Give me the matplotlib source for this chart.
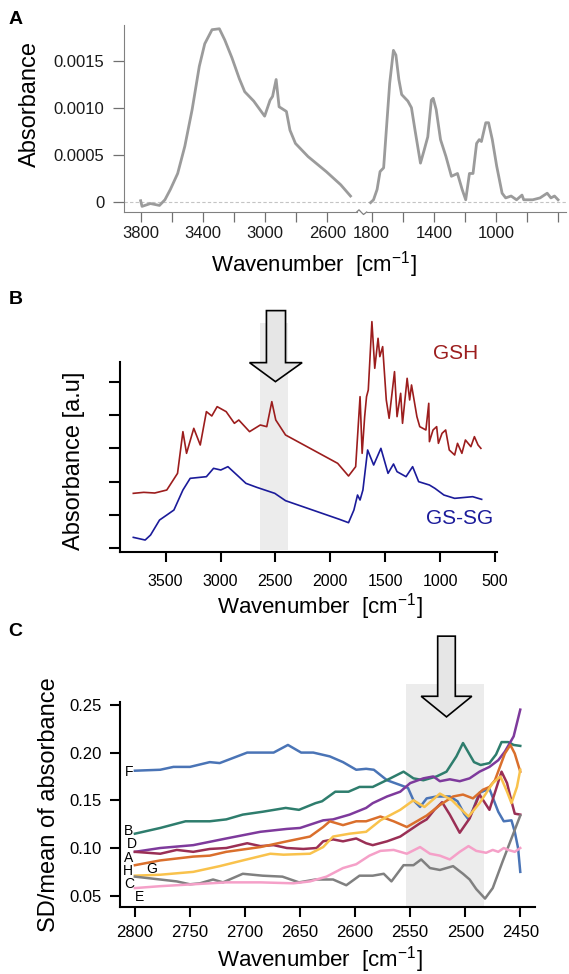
import matplotlib.pyplot as plt
from matplotlib.patches import Polygon, Rectangle
from matplotlib.lines import Line2D
from matplotlib.ticker import FormatStrFormatter

plt.rcParams['font.family'] = ['Liberation Sans', 'DejaVu Sans']
plt.rcParams['mathtext.fontset'] = 'custom'
plt.rcParams['mathtext.rm'] = 'Liberation Sans'
plt.rcParams['mathtext.it'] = 'Liberation Sans:italic'

# ---- panel A : FTIR spectrum (broken axis) ----
a_wn_high = [3800, 3791, 3737, 3679, 3644, 3609, 3562, 3516, 3469, 3423, 3388, 3341, 3294,
             3259, 3213, 3166, 3131, 3073, 3003, 2968, 2952, 2929, 2910, 2863, 2840, 2805,
             2724, 2607, 2514, 2451]
a_abs_high = [0.00001, -0.00005, -0.00002, -0.00004, 0.00002, 0.00013, 0.00030, 0.00059,
              0.00098, 0.00144, 0.00168, 0.00183, 0.00184, 0.00172, 0.00153, 0.00131,
              0.00117, 0.00107, 0.00091, 0.00108, 0.00112, 0.00130, 0.00101, 0.00096,
              0.00076, 0.00062, 0.00048, 0.00032, 0.00018, 0.00006]
a_wn_low = [1807, 1788, 1765, 1746, 1723, 1707, 1684, 1660, 1644, 1625, 1607, 1567, 1544,
            1521, 1486, 1462, 1439, 1416, 1404, 1385, 1357, 1322, 1287, 1248, 1218, 1195,
            1171, 1148, 1125, 1108, 1094, 1066, 1048, 1024, 996, 961, 938, 903, 868, 833,
            822, 764, 717, 671, 647, 624, 601]
a_abs_low = [-0.00001, 0.00002, 0.00013, 0.00032, 0.00036, 0.00073, 0.00126, 0.00161,
             0.00156, 0.00130, 0.00114, 0.00107, 0.00100, 0.00076, 0.00041, 0.00055,
             0.00069, 0.00108, 0.00110, 0.00098, 0.00066, 0.00048, 0.00027, 0.00030,
             0.00013, 0.00002, 0.00030, 0.00030, 0.00062, 0.00066, 0.00064, 0.00084,
             0.00084, 0.00066, 0.00038, 0.00009, 0.00004, 0.00006, 0.00002, 0.00007,
             0.00002, 0.00002, 0.00004, 0.00009, 0.00004, 0.00006, 0.00002]
a_yticks = [0, 0.0005, 0.0010, 0.0015]
a_yticklabels = ['0', '0.0005', '0.0010', '0.0015']
a_xticks_high = [3800, 3600, 3400, 3200, 3000, 2800, 2600]
a_xticks_low = [1800, 1600, 1400, 1200, 1000, 800, 600]
a_xlabels_high = ['3800', '', '3400', '', '3000', '', '2600']
a_xlabels_low = ['1800', '', '1400', '', '1000', '', '']

# ---- panel B : GSH vs GS-SG ----
gsh_wn = [3795, 3700, 3600, 3490, 3392, 3343, 3310, 3244, 3185, 3129, 3080, 3031, 2949,
          2874, 2834, 2736, 2638, 2579, 2533, 2497, 2408, 1933, 1834, 1769, 1729, 1710,
          1687, 1670, 1654, 1621, 1595, 1565, 1549, 1523, 1490, 1464, 1415, 1392, 1359,
          1342, 1300, 1277, 1260, 1211, 1185, 1129, 1103, 1097, 1064, 1031, 1015, 982,
          949, 916, 867, 841, 801, 769, 719, 687, 654, 628]
gsh_abs = [1.65, 1.68, 1.66, 1.75, 2.25, 3.50, 2.85, 3.60, 3.10, 4.10, 3.97, 4.25, 4.10,
           3.75, 3.85, 3.50, 3.70, 3.65, 4.40, 3.85, 3.40, 2.55, 2.17, 2.45, 4.55, 2.85,
           3.95, 4.55, 4.75, 6.80, 5.40, 6.30, 5.75, 6.05, 4.45, 3.90, 5.30, 3.95, 4.65,
           3.75, 5.10, 4.45, 4.90, 3.95, 3.65, 3.55, 4.35, 3.20, 3.55, 3.65, 3.15, 3.45,
           3.55, 2.95, 2.80, 3.15, 2.85, 3.25, 3.05, 3.35, 3.10, 3.00]
gssg_wn = [3795, 3687, 3638, 3556, 3490, 3425, 3343, 3277, 3129, 3064, 2998, 2933, 2834,
           2769, 2670, 2506, 2408, 1916, 1834, 1785, 1752, 1729, 1703, 1660, 1605, 1539,
           1474, 1424, 1392, 1310, 1250, 1195, 1097, 1047, 965, 867, 703, 621]
gssg_abs = [0.33, 0.25, 0.40, 0.85, 1.00, 1.15, 1.75, 2.10, 2.15, 2.40, 2.35, 2.45, 2.15,
            1.95, 1.83, 1.65, 1.43, 0.87, 0.77, 1.15, 1.60, 1.45, 1.75, 2.95, 2.50, 3.00,
            2.25, 2.53, 2.30, 2.15, 2.45, 2.00, 1.90, 1.80, 1.60, 1.50, 1.55, 1.47]
b_xticks = [3500, 3000, 2500, 2000, 1500, 1000, 500]
b_highlight = (2638, 2385)

# ---- panel C : SD/mean of absorbance, samples A-H ----
f_wn = [2800, 2777, 2765, 2750, 2732, 2723, 2698, 2674, 2661, 2649, 2638, 2623, 2611, 2599,
        2590, 2583, 2571, 2559, 2552, 2547, 2541, 2535, 2526, 2514, 2507, 2501, 2497, 2493,
        2487, 2478, 2470, 2465, 2458, 2455, 2452, 2450]
f_val = [0.181, 0.182, 0.185, 0.185, 0.190, 0.189, 0.200, 0.200, 0.208, 0.200, 0.200, 0.196,
         0.190, 0.182, 0.183, 0.182, 0.171, 0.166, 0.163, 0.150, 0.143, 0.152, 0.154, 0.154,
         0.149, 0.136, 0.130, 0.140, 0.158, 0.162, 0.138, 0.128, 0.129, 0.117, 0.100, 0.075]
b_wn = [2800, 2777, 2754, 2732, 2717, 2702, 2684, 2663, 2651, 2636, 2630, 2618, 2606, 2596,
        2584, 2568, 2556, 2547, 2538, 2526, 2517, 2508, 2502, 2497, 2492, 2486, 2478, 2472,
        2467, 2461, 2456, 2450]
b_val = [0.115, 0.121, 0.128, 0.128, 0.130, 0.135, 0.138, 0.142, 0.140, 0.147, 0.149, 0.159,
         0.159, 0.164, 0.164, 0.173, 0.180, 0.173, 0.171, 0.175, 0.180, 0.196, 0.210, 0.200,
         0.190, 0.187, 0.189, 0.198, 0.211, 0.211, 0.208, 0.207]
d_wn = [2800, 2777, 2747, 2717, 2686, 2662, 2650, 2629, 2620, 2605, 2590, 2584, 2571, 2559,
        2550, 2538, 2529, 2523, 2514, 2505, 2496, 2487, 2478, 2470, 2464, 2459, 2456, 2450]
d_val = [0.096, 0.100, 0.103, 0.110, 0.117, 0.120, 0.121, 0.129, 0.130, 0.135, 0.142, 0.147,
         0.154, 0.159, 0.168, 0.173, 0.175, 0.170, 0.172, 0.170, 0.173, 0.180, 0.185, 0.192,
         0.201, 0.211, 0.217, 0.245]
a_wn = [2800, 2777, 2762, 2747, 2732, 2717, 2698, 2686, 2674, 2662, 2647, 2635, 2629, 2620,
        2611, 2599, 2590, 2584, 2571, 2559, 2550, 2541, 2535, 2528, 2521, 2514, 2505, 2496,
        2487, 2478, 2467, 2462, 2458, 2455, 2450]
a_val = [0.096, 0.094, 0.098, 0.096, 0.099, 0.100, 0.105, 0.102, 0.103, 0.100, 0.099, 0.100,
         0.107, 0.109, 0.107, 0.110, 0.105, 0.103, 0.107, 0.112, 0.119, 0.126, 0.130, 0.140,
         0.148, 0.135, 0.116, 0.131, 0.156, 0.140, 0.180, 0.168, 0.149, 0.136, 0.135]
g_wn = [2800, 2777, 2747, 2732, 2717, 2686, 2662, 2641, 2629, 2623, 2611, 2599, 2590, 2577,
        2565, 2553, 2547, 2535, 2523, 2511, 2502, 2493, 2484, 2478, 2473, 2464, 2459, 2455,
        2450]
g_val = [0.082, 0.087, 0.091, 0.092, 0.096, 0.101, 0.107, 0.112, 0.122, 0.128, 0.124, 0.128,
         0.128, 0.133, 0.128, 0.122, 0.126, 0.134, 0.145, 0.154, 0.156, 0.152, 0.161, 0.164,
         0.171, 0.199, 0.208, 0.199, 0.180]
h_wn = [2800, 2777, 2747, 2723, 2702, 2677, 2665, 2641, 2629, 2620, 2605, 2590, 2577, 2559,
        2547, 2537, 2523, 2512, 2505, 2497, 2487, 2475, 2468, 2462, 2458, 2453, 2450]
h_val = [0.071, 0.072, 0.075, 0.081, 0.087, 0.094, 0.093, 0.094, 0.101, 0.112, 0.115, 0.117,
         0.129, 0.140, 0.150, 0.143, 0.157, 0.150, 0.142, 0.133, 0.147, 0.168, 0.175, 0.159,
         0.147, 0.164, 0.182]
c_wn = [2800, 2777, 2762, 2750, 2741, 2729, 2720, 2702, 2684, 2666, 2651, 2636, 2620, 2608,
        2596, 2584, 2574, 2567, 2556, 2547, 2540, 2532, 2523, 2511, 2502, 2496, 2490, 2482,
        2475, 2466, 2458, 2450]
c_val = [0.070, 0.067, 0.065, 0.062, 0.063, 0.067, 0.064, 0.073, 0.071, 0.070, 0.064, 0.067,
         0.067, 0.061, 0.071, 0.071, 0.073, 0.065, 0.082, 0.082, 0.088, 0.079, 0.077, 0.081,
         0.073, 0.067, 0.057, 0.047, 0.058, 0.086, 0.110, 0.134]
e_wn = [2800, 2777, 2747, 2717, 2686, 2656, 2641, 2626, 2611, 2599, 2587, 2577, 2565, 2553,
        2541, 2532, 2523, 2514, 2505, 2497, 2490, 2481, 2475, 2470, 2465, 2461, 2455, 2450]
e_val = [0.058, 0.060, 0.062, 0.064, 0.064, 0.063, 0.065, 0.070, 0.079, 0.083, 0.092, 0.097,
         0.098, 0.094, 0.101, 0.094, 0.092, 0.088, 0.096, 0.102, 0.097, 0.095, 0.098, 0.096,
         0.100, 0.098, 0.096, 0.100]
c_series = [('F', f_wn, f_val, '#4a74b6'), ('B', b_wn, b_val, '#2e7d6d'),
            ('D', d_wn, d_val, '#7e3a9c'), ('A', a_wn, a_val, '#9a2f55'),
            ('G', g_wn, g_val, '#da6f2c'), ('H', h_wn, h_val, '#f9c24c'),
            ('C', c_wn, c_val, '#808080'), ('E', e_wn, e_val, '#f5a0c8')]
c_letter_pos = {'F': (2805, 0.180), 'B': (2806, 0.1175), 'D': (2803, 0.1040),
                'A': (2806, 0.0900), 'H': (2806, 0.0762), 'G': (2785, 0.0785),
                'C': (2805, 0.0625), 'E': (2796, 0.0485)}
c_xticks = [2800, 2750, 2700, 2650, 2600, 2550, 2500, 2450]
c_yticks = [0.05, 0.10, 0.15, 0.20, 0.25]
c_highlight = (2554, 2483)

W, H = 569, 974
fig = plt.figure(figsize=(W / 100, H / 100), dpi=100)


def box(l, t, r, b):
    return [l / W, 1 - b / H, (r - l) / W, (b - t) / H]


def down_arrow(ax, shaft, head, tip, head_y, top):
    pts = [(shaft[0], top), (shaft[0], head_y), (head[0], head_y), tip,
           (head[1], head_y), (shaft[1], head_y), (shaft[1], top)]
    ax.add_patch(Polygon(pts, closed=True, facecolor='#e6e6e6', edgecolor='black',
                         lw=1.2, clip_on=False, zorder=5))


# ================= A =================
grey = '#9b9b9b'
axL = fig.add_axes(box(124, 25, 361.7, 212))
axR = fig.add_axes(box(361.7, 25, 566, 212))
axL.plot(a_wn_high, a_abs_high, color=grey, lw=2.0, solid_joinstyle='round')
axR.plot(a_wn_low, a_abs_low, color=grey, lw=2.0, solid_joinstyle='round')
for ax in (axL, axR):
    ax.axhline(0, color='#c4c4c4', lw=0.8, ls=(0, (3, 2)), zorder=0)
    ax.set_ylim(-0.00011, 0.00188)
    ax.spines['top'].set_visible(False)
    ax.spines['right'].set_visible(False)
    ax.spines['bottom'].set_color('#808080')
    ax.spines['left'].set_color('#808080')
    ax.tick_params(axis='x', length=7.2, width=0.9, color='#707070', labelsize=12,
                   pad=3, labelcolor='#1a1a1a')
axL.set_xlim(3907, 2379)
axR.set_xlim(1864, 550)
axL.spines['bottom'].set_bounds(3907, 2410)
axR.spines['bottom'].set_bounds(1833, 550)
axR.spines['left'].set_visible(False)
axR.tick_params(axis='y', left=False, labelleft=False)
axL.set_yticks(a_yticks)
axL.set_yticklabels(a_yticklabels)
axL.tick_params(axis='y', length=8, width=0.9, color='#707070', labelsize=12, pad=6,
                labelcolor='#1a1a1a')
axL.set_xticks(a_xticks_high)
axL.set_xticklabels(a_xlabels_high)
axR.set_xticks(a_xticks_low)
axR.set_xticklabels(a_xlabels_low)
# break mark on the axis
bx = [356.7, 359.0, 361.0, 363.5, 366.7]
by = [212, 209.8, 212, 214.5, 212]
fig.add_artist(Line2D([x / W for x in bx], [1 - y / H for y in by], color='#808080',
                      lw=0.9, transform=fig.transFigure))
fig.text(30 / W, 1 - 104 / H, 'Absorbance', rotation=90, fontsize=17, ha='center',
         va='center')
fig.text(314 / W, 1 - 265 / H, 'Wavenumber  [cm$^{-1}$]', fontsize=16, ha='center',
         va='center')
fig.text(15.5 / W, 1 - 20 / H, 'A', fontsize=14, fontweight='bold', ha='center',
         va='center')

# ================= B =================
axB = fig.add_axes(box(119.7, 362.3, 496.8, 551.7))
axB.add_patch(Rectangle((b_highlight[1], -0.05), b_highlight[0] - b_highlight[1], 6.8,
                        facecolor='#ececec', edgecolor='none', clip_on=False, zorder=0))
axB.plot(gsh_wn, gsh_abs, color='#9c1d1d', lw=1.2, clip_on=False)
axB.plot(gssg_wn, gssg_abs, color='#1b1b9a', lw=1.2, clip_on=False)
down_arrow(axB, (2582, 2408), (2736, 2257), (2500, 5.0), 5.57, 7.13)
axB.set_xlim(3919, 483)
axB.set_ylim(-0.1, 5.58)
axB.set_xticks(b_xticks)
axB.set_yticks(range(6))
axB.set_yticklabels([])
for s in ('top', 'right'):
    axB.spines[s].set_visible(False)
for s in ('left', 'bottom'):
    axB.spines[s].set_linewidth(1.5)
axB.tick_params(axis='x', length=7.2, width=1.5, labelsize=11.5, pad=9)
axB.tick_params(axis='y', length=7.8, width=1.5)
axB.text(860, 5.83, 'GSH', color='#9c1d1d', fontsize=15, ha='center', va='center')
axB.text(818, 0.9, 'GS-SG', color='#1b1b9a', fontsize=15, ha='center', va='center')
fig.text(74 / W, 1 - 461 / H, 'Absorbance [a.u]', rotation=90, fontsize=17,
         ha='center', va='center')
fig.text(320 / W, 1 - 607 / H, 'Wavenumber  [cm$^{-1}$]', fontsize=16, ha='center',
         va='center')
fig.text(15.5 / W, 1 - 300 / H, 'B', fontsize=14, fontweight='bold', ha='center',
         va='center')

# ================= C =================
axC = fig.add_axes(box(119.7, 702, 534.8, 906.7))
axC.add_patch(Rectangle((c_highlight[1], 0.0385), c_highlight[0] - c_highlight[1],
                        0.2716 - 0.0385, facecolor='#ececec', edgecolor='none',
                        clip_on=False, zorder=0))
for name, wn, val, col in c_series:
    axC.plot(wn, val, color=col, lw=1.8, solid_joinstyle='round', clip_on=False)
    lx, ly = c_letter_pos[name]
    axC.text(lx, ly, name, fontsize=10, ha='center', va='center', clip_on=False)
down_arrow(axC, (2525, 2509), (2540, 2494), (2517, 0.2374), 0.259, 0.322)
axC.set_xlim(2813.8, 2436.8)
axC.set_ylim(0.0385, 0.253)
axC.set_xticks(c_xticks)
axC.set_yticks(c_yticks)
axC.yaxis.set_major_formatter(FormatStrFormatter('%.2f'))
for s in ('top', 'right'):
    axC.spines[s].set_visible(False)
for s in ('left', 'bottom'):
    axC.spines[s].set_linewidth(1.5)
axC.tick_params(axis='x', length=7.2, width=1.5, labelsize=12, pad=6)
axC.tick_params(axis='y', length=7.2, width=1.5, labelsize=12, pad=6)
fig.text(49 / W, 1 - 805 / H, 'SD/mean of absorbance', rotation=90, fontsize=17,
         ha='center', va='center')
fig.text(320 / W, 1 - 960 / H, 'Wavenumber  [cm$^{-1}$]', fontsize=16, ha='center',
         va='center')
fig.text(15.5 / W, 1 - 632 / H, 'C', fontsize=14, fontweight='bold', ha='center',
         va='center')

fig.savefig('out.png', dpi=100)
